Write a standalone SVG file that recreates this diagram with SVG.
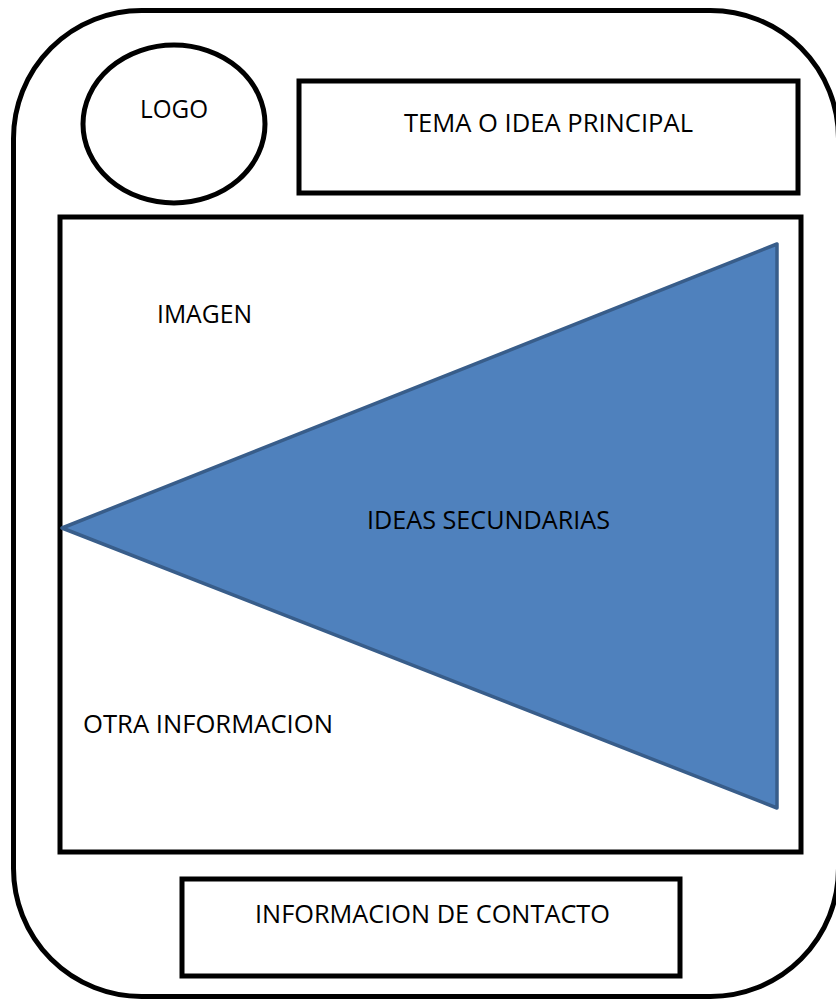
<svg xmlns="http://www.w3.org/2000/svg" width="836" height="1000" viewBox="0 0 836 1000">
<style>
.box{fill:none;stroke:#000;stroke-width:5}
.t{font-family:"Open Sans","Noto Sans",sans-serif;font-size:25px;fill:#000}
</style>
<rect width="836" height="1000" fill="#fff"/>
<g id="frame"><rect class="box" x="13.5" y="10.5" width="825" height="986" rx="128" ry="128"/></g>
<g id="logo"><ellipse class="box" cx="174" cy="124" rx="91" ry="79" stroke-width="4.5"/><text class="t" x="140" y="118" textLength="68" lengthAdjust="spacingAndGlyphs">LOGO</text></g>
<g id="tema"><rect class="box" x="299" y="81" width="499" height="112" stroke-width="4.5"/><text class="t" x="404" y="132" textLength="289" lengthAdjust="spacingAndGlyphs">TEMA O IDEA PRINCIPAL</text></g>
<g id="main"><rect class="box" x="60" y="217" width="741" height="635"/></g>
<g id="ideas"><polygon points="62,528 777,244 777,808" fill="#4F81BD" stroke="#385D8A" stroke-width="3.5" stroke-linejoin="round"/><text class="t" x="367" y="529" textLength="243" lengthAdjust="spacingAndGlyphs">IDEAS SECUNDARIAS</text></g>
<g id="imagen"><text class="t" x="157" y="323" textLength="95" lengthAdjust="spacingAndGlyphs">IMAGEN</text></g>
<g id="otra"><text class="t" x="83" y="733" textLength="250" lengthAdjust="spacingAndGlyphs">OTRA INFORMACION</text></g>
<g id="contacto"><rect class="box" x="182" y="879" width="498" height="97" stroke-width="4.5"/><text class="t" x="255" y="923" textLength="355" lengthAdjust="spacingAndGlyphs">INFORMACION DE CONTACTO</text></g>
<g id="connectors"/>
</svg>
